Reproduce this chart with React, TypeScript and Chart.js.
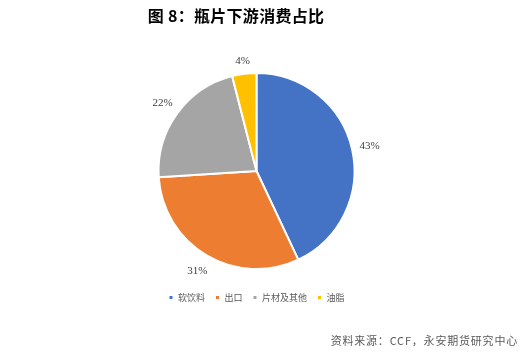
import React, { useEffect, useRef } from "react";
import { Chart, registerables } from "chart.js";

Chart.register(...registerables);

const categories = ["软饮料", "出口", "片材及其他", "油脂"];
const shares = [43, 31, 22, 4];
const colors = ["#4472C4", "#ED7D31", "#A5A5A5", "#FFC000"];
const titleText = "图 8：瓶片下游消费占比";
const sourceText = "资料来源：CCF，永安期货研究中心";

const decorPlugin = {
  id: "decor",
  afterDatasetsDraw(chart: any) {
    const ctx = chart.ctx;
    const meta = chart.getDatasetMeta(0);
    ctx.save();
    ctx.font = "11px 'Liberation Serif', 'Times New Roman', serif";
    ctx.fillStyle = "#404040";
    ctx.textAlign = "center";
    ctx.textBaseline = "middle";
    meta.data.forEach((arc: any, i: number) => {
      const p = arc.getProps(["x", "y", "startAngle", "endAngle", "outerRadius"], true);
      const mid = (p.startAngle + p.endAngle) / 2;
      const r = p.outerRadius + (i === 3 ? 13 : 18);
      ctx.fillText(shares[i] + "%", p.x + Math.cos(mid) * r, p.y + Math.sin(mid) * r);
    });
    ctx.restore();
  },
  afterDraw(chart: any) {
    const ctx = chart.ctx;
    ctx.save();
    ctx.fillStyle = "#000000";
    ctx.font = "bold 16px 'Noto Sans CJK SC', sans-serif";
    ctx.textAlign = "center";
    ctx.textBaseline = "middle";
    (ctx as any).letterSpacing = "0.3px";
    ctx.fillText(titleText, 236, 16);
    ctx.fillStyle = "#595959";
    ctx.font = "11px 'Noto Sans CJK SC', sans-serif";
    (ctx as any).letterSpacing = "0.8px";
    ctx.textAlign = "right";
    ctx.fillText(sourceText, 518, 341);
    ctx.restore();
  },
};

export default function App() {
  const ref = useRef<HTMLCanvasElement | null>(null);
  useEffect(() => {
    document.body.style.margin = "0";
    document.body.style.background = "#ffffff";
    const chart = new Chart(ref.current as HTMLCanvasElement, {
      type: "pie",
      data: {
        labels: categories,
        datasets: [
          {
            data: shares,
            backgroundColor: colors,
            borderColor: "#ffffff",
            borderWidth: 2,
            radius: 98,
          } as any,
        ],
      },
      options: {
        animation: false,
        responsive: false,
        maintainAspectRatio: false,
        layout: { padding: { top: 59, bottom: 44, left: 0, right: 14 } },
        plugins: {
          title: { display: false },
          tooltip: { enabled: false },
          legend: {
            position: "bottom",
            labels: {
              boxWidth: 5,
              boxHeight: 5,
              padding: 10,
              color: "#595959",
              font: { size: 9, family: "'Noto Sans CJK SC', sans-serif" },
            },
          },
        },
      },
      plugins: [decorPlugin],
    });
    return () => chart.destroy();
  }, []);
  return (
    <div style={{ width: 527, height: 356, background: "#fff" }}>
      <canvas ref={ref} width={527} height={356} />
    </div>
  );
}
